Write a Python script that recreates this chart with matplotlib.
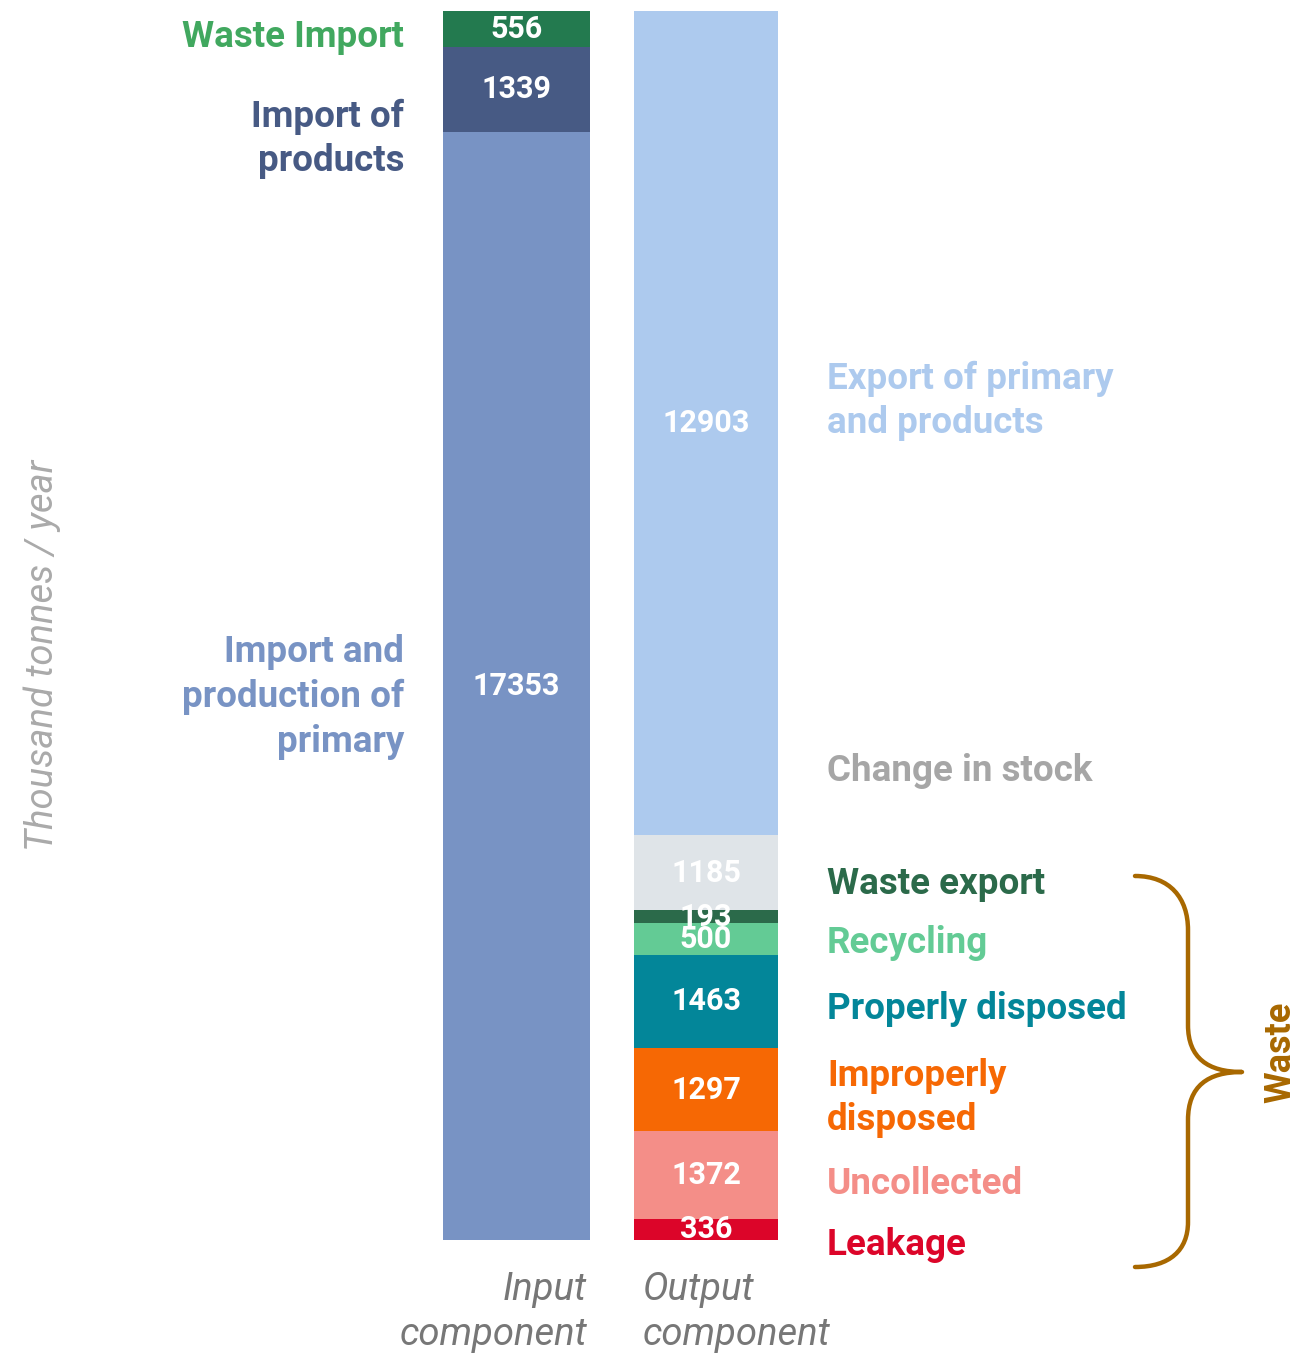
import matplotlib.pyplot as plt
from matplotlib.path import Path
from matplotlib.patches import PathPatch

plt.rcParams['font.family'] = ['Roboto', 'DejaVu Sans']

# input column, bottom to top
in_names = ['Import and\nproduction of\nprimary', 'Import of\nproducts', 'Waste Import']
in_vals = [17353, 1339, 556]
in_colors = ['#7893c4', '#475a84', '#237a4f']
in_label_colors = ['#7893c4', '#475a84', '#41a85f']

# output column, bottom to top
out_names = ['Leakage', 'Uncollected', 'Improperly\ndisposed', 'Properly disposed',
             'Recycling', 'Waste export', 'Change in stock', 'Export of primary\nand products']
out_vals = [336, 1372, 1297, 1463, 500, 193, 1185, 12903]
out_colors = ['#dc0529', '#f48e88', '#f66804', '#038699', '#63cb95', '#2b6a4a', '#dfe4e8', '#adcaee']
out_label_colors = ['#dc0529', '#f48e88', '#f66804', '#038699', '#63cb95', '#2b6a4a', '#a6a6a6', '#adcaee']

W, H = 1296, 1354
fig = plt.figure(figsize=(W / 100, H / 100), dpi=100)

total = sum(in_vals)
y0_px, y1_px = 1240, 11
ax = fig.add_axes([0, (H - y0_px) / H, 1, (y0_px - y1_px) / H])
ax.set_xlim(0, W)
ax.set_ylim(0, total)
ax.axis('off')

def stack(x, width, vals, colors):
    bottom = 0
    for v, c in zip(vals, colors):
        ax.bar(x, v, width=width, bottom=bottom, color=c, align='center', linewidth=0)
        ax.text(x, bottom + v / 2, str(v), ha='center', va='center', color='white',
                fontsize=22, fontweight='bold')
        bottom += v

stack(516.5, 147, in_vals, in_colors)
stack(706, 144, out_vals, out_colors)

# overlay in pixel coords for labels and brace
ov = fig.add_axes([0, 0, 1, 1])
ov.set_xlim(0, W)
ov.set_ylim(H, 0)
ov.axis('off')
ov.patch.set_alpha(0)

in_label_y = [37, 139, 697]
in_label_y = in_label_y[::-1]
for name, c, y in zip(in_names, in_label_colors, in_label_y):
    ov.text(404, y, name, ha='right', va='center', color=c, fontsize=26.5,
            fontweight='bold', linespacing=1.3)

out_label_y = [1245, 1184, 1098, 1009, 943, 884, 771, 401]
for name, c, y in zip(out_names, out_label_colors, out_label_y):
    ov.text(827, y, name, ha='left', va='center', color=c, fontsize=26.5,
            fontweight='bold', linespacing=1.3)

ov.text(42, 655, 'Thousand tonnes / year', rotation=90, ha='center', va='center',
        color='#aaaaaa', fontsize=27.5, fontstyle='italic')
ov.text(587, 1312, 'Input\ncomponent', ha='right', va='center', color='#777777',
        fontsize=27.5, fontstyle='italic', linespacing=1.25)
ov.text(643, 1312, 'Output\ncomponent', ha='left', va='center', color='#777777',
        fontsize=27.5, fontstyle='italic', linespacing=1.25)

# curly brace for waste
brown = '#a86800'
verts = [(1135, 876), (1170, 876), (1188, 898), (1188, 930),
         (1188, 1025),
         (1188, 1058), (1208, 1072), (1242, 1072),
         (1208, 1072), (1188, 1086), (1188, 1120),
         (1188, 1222),
         (1188, 1250), (1170, 1267), (1135, 1267)]
codes = [Path.MOVETO, Path.CURVE4, Path.CURVE4, Path.CURVE4,
         Path.LINETO,
         Path.CURVE4, Path.CURVE4, Path.CURVE4,
         Path.CURVE4, Path.CURVE4, Path.CURVE4,
         Path.LINETO,
         Path.CURVE4, Path.CURVE4, Path.CURVE4]
ov.add_patch(PathPatch(Path(verts, codes), facecolor='none', edgecolor=brown,
                       lw=3.2, capstyle='round', joinstyle='round'))
ov.text(1280, 1052, 'Waste', rotation=90, ha='center', va='center', color=brown,
        fontsize=26, fontweight='bold')

fig.savefig('out.png', dpi=100)
